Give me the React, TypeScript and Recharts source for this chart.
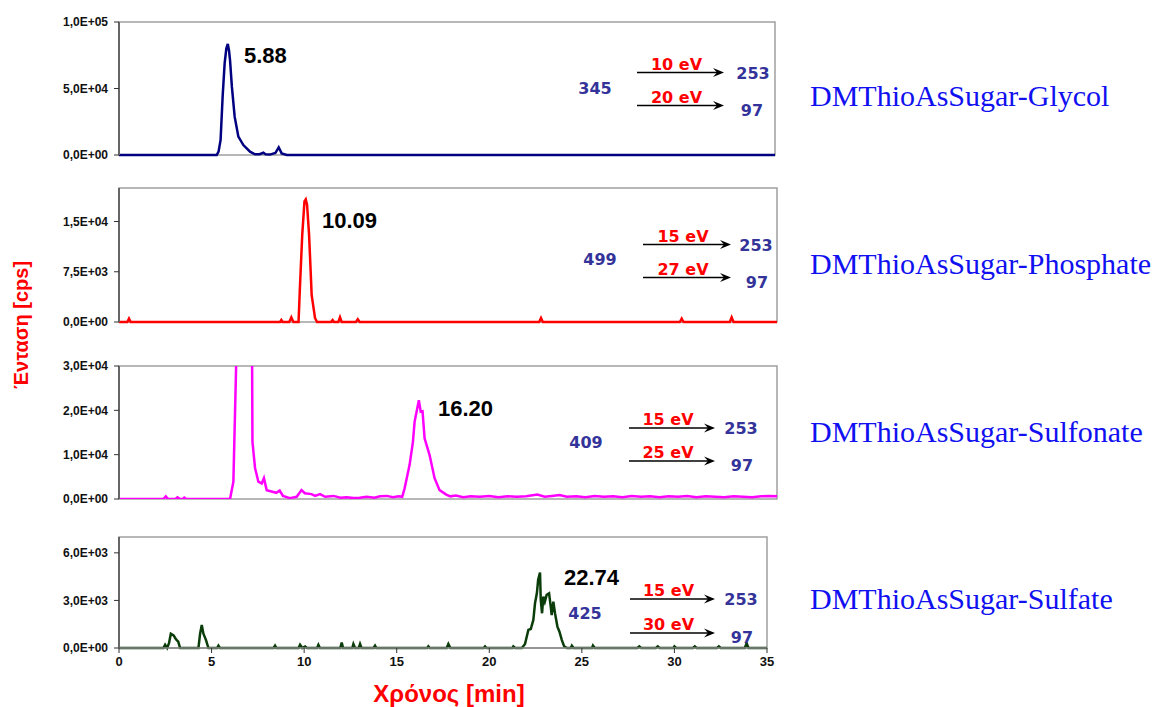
import { LineChart, Line, XAxis, YAxis, ReferenceArea } from "recharts";

// [retention time (min), intensity (cps)]
const glycolTrace: [number, number][] = [
  [0, 0], [5.28, 0], [5.38, 2500], [5.49, 11300], [5.6, 43800], [5.71, 69000], [5.8, 80000],
  [5.88, 83500], [5.95, 78000], [6.0, 71400], [6.1, 51400], [6.25, 28800], [6.45, 13800],
  [6.72, 7500], [7.08, 2500], [7.35, 500], [7.6, 600], [7.8, 1700], [7.92, 600], [8.16, 300],
  [8.45, 1500], [8.63, 5800], [8.79, 1200], [9.07, 0], [35.45, 0],
];

const phosphateTrace: [number, number][] = [
  [0, 0], [0.45, 0], [0.54, 500], [0.63, 0], [8.7, 0], [8.77, 300], [8.85, 0], [9.2, 0],
  [9.31, 700], [9.42, 0], [9.7, 0], [9.78, 5500], [9.9, 13000], [10.02, 18000], [10.09, 18300],
  [10.16, 17500], [10.27, 13000], [10.41, 4000], [10.59, 600], [10.7, 0], [11.45, 0], [11.54, 300],
  [11.62, 0], [11.85, 0], [11.94, 700], [12.03, 0], [12.8, 0], [12.9, 400], [13.0, 0], [22.7, 0],
  [22.8, 600], [22.9, 0], [30.3, 0], [30.4, 500], [30.5, 0], [33.0, 0], [33.1, 700], [33.2, 0],
  [35.55, 0],
];

const sulfonateTrace: [number, number][] = [
  [0, 0], [2.4, 0], [2.53, 600], [2.65, 0], [3.05, 0], [3.16, 400], [3.3, 0], [3.45, 0],
  [3.53, 300], [3.62, 0], [6.0, 0], [6.18, 3900], [6.3, 25000], [6.45, 52000], [6.75, 60000],
  [7.05, 50000], [7.19, 32000], [7.21, 12900], [7.35, 7000], [7.53, 3900], [7.71, 3500],
  [7.83, 4700], [7.98, 2000], [8.24, 1700], [8.5, 1400], [8.68, 1900], [8.86, 700], [9.23, 200],
  [9.6, 500], [9.86, 2000], [10.04, 1300], [10.4, 1100], [10.6, 700], [10.86, 1100], [11.14, 500],
  [11.59, 700], [11.96, 300], [12.3, 400], [12.68, 200], [13.0, 300], [13.38, 500], [13.8, 300],
  [14.1, 600], [14.47, 700], [14.8, 400], [15.1, 600], [15.3, 500], [15.43, 2400], [15.7, 7700],
  [15.88, 12900], [15.97, 17400], [16.2, 22300], [16.3, 19700], [16.4, 19800], [16.51, 13700],
  [16.78, 9900], [17.05, 4700], [17.32, 2000], [17.68, 1000], [17.9, 600], [18.2, 800],
  [18.6, 400], [19.0, 600], [19.5, 500], [20.0, 700], [20.5, 400], [21.0, 600], [21.5, 500],
  [22.0, 600], [22.6, 1000], [23.0, 500], [23.4, 700], [23.8, 900], [24.2, 500], [24.7, 600],
  [25.2, 400], [25.7, 700], [26.2, 500], [26.7, 600], [27.2, 400], [27.7, 700], [28.2, 500],
  [28.7, 600], [29.2, 400], [29.7, 600], [30.2, 500], [30.7, 700], [31.2, 400], [31.7, 600],
  [32.2, 500], [32.7, 400], [33.2, 600], [33.7, 500], [34.2, 400], [34.7, 600], [35.1, 700],
  [35.55, 600],
];

const sulfateTrace: [number, number][] = [
  [0, 0], [2.4, 0], [2.49, 200], [2.6, 0], [2.7, 300], [2.8, 900], [2.95, 800], [3.05, 600],
  [3.12, 500], [3.2, 400], [3.3, 0], [4.29, 0], [4.38, 900], [4.47, 1450], [4.56, 900], [4.7, 500],
  [4.83, 0], [5.3, 0], [5.37, 150], [5.45, 0], [8.35, 0], [8.43, 150], [8.5, 0], [9.7, 0],
  [9.78, 200], [9.9, 0], [10.05, 100], [10.15, 0], [10.7, 0], [10.77, 200], [10.85, 0], [11.95, 0],
  [12.03, 350], [12.1, 0], [12.6, 0], [12.66, 250], [12.75, 0], [12.95, 0], [13.02, 250], [13.1, 0],
  [13.75, 0], [13.83, 150], [13.9, 0], [16.65, 0], [16.71, 100], [16.78, 0], [17.7, 0], [17.79, 250],
  [17.9, 0], [19.7, 0], [19.77, 100], [19.85, 0], [21.25, 0], [21.3, 100], [21.4, 0], [21.76, 0],
  [21.93, 250], [22.11, 1140], [22.24, 1200], [22.38, 1770], [22.47, 2820], [22.57, 3450],
  [22.64, 4300], [22.74, 4760], [22.78, 3030], [22.85, 2190], [22.92, 3240], [23.0, 2920],
  [23.1, 3350], [23.23, 3450], [23.32, 2610], [23.37, 2080], [23.46, 2920], [23.55, 2190],
  [23.68, 1350], [23.79, 1030], [23.92, 500], [24.04, 110], [24.2, 0], [24.4, 0], [24.46, 150],
  [24.55, 0], [25.55, 0], [25.6, 150], [25.7, 0], [28.0, 0], [28.1, 100], [28.2, 0], [29.0, 0],
  [29.1, 100], [29.2, 0], [29.95, 0], [30.0, 100], [30.1, 0], [31.0, 0], [31.1, 100], [31.2, 0],
  [32.3, 0], [32.4, 100], [32.5, 0], [33.8, 0], [33.9, 300], [34.0, 0], [35, 0],
];

const compoundNames = [
  "DMThioAsSugar-Glycol",
  "DMThioAsSugar-Phosphate",
  "DMThioAsSugar-Sulfonate",
  "DMThioAsSugar-Sulfate",
];
const retentionLabels = ["5.88", "10.09", "16.20", "22.74"];
const precursorIons = [345, 499, 409, 425];
const productIons = [253, 97];
const collisionEnergies = [
  [10, 20],
  [15, 27],
  [15, 25],
  [15, 30],
];
const yMaxima = [100000, 20000, 30000, 7000];
const yTickValues = [
  [0, 50000, 100000],
  [0, 7500, 15000],
  [0, 10000, 20000, 30000],
  [0, 3000, 6000],
];
const xTickValues = [0, 5, 10, 15, 20, 25, 30, 35];

const traces = [glycolTrace, phosphateTrace, sulfonateTrace, sulfateTrace];
const traceColors = ["#000080", "#ff0000", "#ff00ff", "#0b3d0b"];

// plot box (px) and annotation placement per panel
const panelLayout = [
  { top: 22, bottom: 155, right: 775, xMax: 35.45, peak: [244, 55], precursor: [595, 88], arrowX: [637, 724], arrowY: [72.5, 105.5], productX: [753, 752], nameY: 95 },
  { top: 188, bottom: 322, right: 777, xMax: 35.55, peak: [322, 220], precursor: [600, 259], arrowX: [643, 731], arrowY: [244.5, 277.5], productX: [756, 757], nameY: 263 },
  { top: 366, bottom: 499, right: 777, xMax: 35.55, peak: [438, 408], precursor: [586, 442], arrowX: [629, 715], arrowY: [428, 461], productX: [741, 742], nameY: 431 },
  { top: 537, bottom: 648, right: 767, xMax: 35, peak: [564, 577], precursor: [585, 613], arrowX: [630, 715], arrowY: [599, 633], productX: [741, 742], nameY: 598 },
];

const SANS = "'Liberation Sans', Arial, sans-serif";
const ROUND = "'DejaVu Sans', Verdana, sans-serif";
const SERIF = "'Liberation Serif', 'Times New Roman', serif";
const CHART_W = 800;
const Y_AXIS_W = 119;

const sci = (v: number) => {
  if (v === 0) return "0,0E+00";
  const e = Math.floor(Math.log10(v));
  const m = (v / 10 ** e).toFixed(1).replace(".", ",");
  return `${m}E+${String(e).padStart(2, "0")}`;
};

function Panel({ index }: { index: number }) {
  const lay = panelLayout[index];
  const showX = index === 3;
  const xAxisH = showX ? 30 : 0;
  const plotH = lay.bottom - lay.top;
  const data = traces[index].map(([t, v]) => ({ t, v }));
  const yMax = yMaxima[index];

  return (
    <div style={{ position: "absolute", left: 0, top: lay.top - 10 }}>
      <LineChart
        width={CHART_W}
        height={plotH + 20 + xAxisH}
        data={data}
        margin={{ top: 10, right: CHART_W - lay.right, bottom: 10, left: 0 }}
      >
        <XAxis
          type="number"
          dataKey="t"
          domain={[0, lay.xMax]}
          ticks={xTickValues}
          interval={0}
          hide={!showX}
          height={xAxisH}
          tickSize={5}
          tickMargin={4}
          axisLine={{ stroke: "#888", strokeWidth: 1.5 }}
          tickLine={{ stroke: "#333" }}
          tick={{ fill: "#111", fontSize: 13, fontWeight: 700, fontFamily: SANS }}
        />
        <YAxis
          type="number"
          domain={[0, yMax]}
          ticks={yTickValues[index]}
          interval={0}
          allowDataOverflow={index === 2}
          width={Y_AXIS_W}
          tickFormatter={sci}
          tickSize={5}
          tickMargin={6}
          axisLine={{ stroke: "#666", strokeWidth: 2 }}
          tickLine={{ stroke: "#333" }}
          tick={{ fill: "#111", fontSize: 12, fontWeight: 700, fontFamily: SANS }}
        />
        <ReferenceArea
          x1={0}
          x2={lay.xMax}
          y1={0}
          y2={yMax}
          fill="none"
          fillOpacity={0}
          stroke="#a0a0a0"
          strokeWidth={1.5}
        />
        <Line
          type="linear"
          dataKey="v"
          stroke={traceColors[index]}
          strokeWidth={2.5}
          dot={false}
          activeDot={false}
          isAnimationActive={false}
        />
      </LineChart>
    </div>
  );
}

// transition arrow: shaft plus a notched head
function Arrow({ x1, x2, y }: { x1: number; x2: number; y: number }) {
  return (
    <g>
      <line x1={x1} y1={y} x2={x2 - 4} y2={y} stroke="#000" strokeWidth={1.5} />
      <path d={`M${x2},${y} L${x2 - 11},${y - 4.5} L${x2 - 7},${y} L${x2 - 11},${y + 4.5} Z`} fill="#000" />
    </g>
  );
}

function Annotations() {
  return (
    <svg
      width={1158}
      height={707}
      style={{ position: "absolute", left: 0, top: 0, pointerEvents: "none" }}
    >
      {panelLayout.map((lay, i) => (
        <g key={i}>
          <text x={lay.peak[0]} y={lay.peak[1]} dominantBaseline="central" fontFamily={SANS} fontWeight={700} fontSize={22} fill="#000">
            {retentionLabels[i]}
          </text>
          <text x={lay.precursor[0]} y={lay.precursor[1]} textAnchor="middle" dominantBaseline="central" fontFamily={ROUND} fontWeight={700} fontSize={16} fill="#333399">
            {precursorIons[i]}
          </text>
          {productIons.map((ion, k) => (
            <g key={ion}>
              <Arrow x1={lay.arrowX[0]} x2={lay.arrowX[1]} y={lay.arrowY[k]} />
              <text x={(lay.arrowX[0] + lay.arrowX[1]) / 2 - 4} y={lay.arrowY[k] - 8.5} textAnchor="middle" dominantBaseline="central" fontFamily={ROUND} fontWeight={700} fontSize={16} fill="#ff0000">
                {`${collisionEnergies[i][k]} eV`}
              </text>
              <text x={lay.productX[k]} y={lay.arrowY[k] + (k === 0 ? 0.5 : 4.5)} textAnchor="middle" dominantBaseline="central" fontFamily={ROUND} fontWeight={700} fontSize={16} fill="#333399">
                {ion}
              </text>
            </g>
          ))}
          <text x={810} y={lay.nameY} dominantBaseline="central" fontFamily={SERIF} fontSize={30} fill="#1010f0">
            {compoundNames[i]}
          </text>
        </g>
      ))}
      <text
        transform="translate(21,325) rotate(-90)"
        textAnchor="middle"
        dominantBaseline="central"
        fontFamily={SANS}
        fontWeight={700}
        fontSize={20}
        fill="#ff0000"
      >
        Ένταση [cps]
      </text>
      <text x={449} y={693} textAnchor="middle" dominantBaseline="central" fontFamily={SANS} fontWeight={700} fontSize={24} fill="#ff0000">
        Χρόνος [min]
      </text>
    </svg>
  );
}

export default function App() {
  return (
    <div
      style={{
        position: "absolute",
        left: 0,
        top: 0,
        width: 1158,
        height: 707,
        background: "#fff",
        fontFamily: SANS,
        overflow: "hidden",
      }}
    >
      {panelLayout.map((_, i) => (
        <Panel key={i} index={i} />
      ))}
      <Annotations />
    </div>
  );
}
